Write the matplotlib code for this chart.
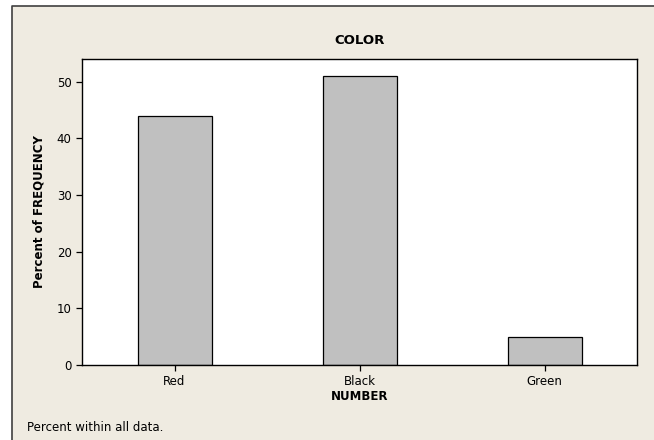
import matplotlib.pyplot as plt
from matplotlib.patches import Rectangle
from matplotlib.lines import Line2D

categories = ['Red', 'Black', 'Green']
percent = [44, 51, 5]
yticks = [0, 10, 20, 30, 40, 50]

W, H = 654, 440
fig = plt.figure(figsize=(W / 100, H / 100), dpi=100)
fig.patch.set_facecolor('white')

# beige panel, dark frame only on top and left
fig.patches.append(Rectangle((12 / W, 0), 1, (H - 6) / H,
                             transform=fig.transFigure, facecolor='#efebe1',
                             edgecolor='none', zorder=-2))
fig.lines.append(Line2D([12 / W, 12 / W, 1], [0, (H - 6) / H, (H - 6) / H],
                        transform=fig.transFigure, color='#404040', linewidth=1.2))

ax = fig.add_axes([82 / W, (H - 365) / H, (637 - 82) / W, (365 - 59) / H])
ax.set_facecolor('white')
ax.bar(range(len(categories)), percent, width=0.4, color='#c0c0c0',
       edgecolor='black', linewidth=0.9)
ax.set_xlim(-0.5, 2.5)
ax.set_ylim(0, 54)
ax.set_yticks(yticks)
ax.set_xticks(range(len(categories)))
ax.set_xticklabels(categories)
ax.tick_params(labelsize=8.5, length=4, width=0.9, direction='out')
for s in ax.spines.values():
    s.set_linewidth(1.0)

ax.set_title('COLOR', fontsize=9.5, fontweight='bold', pad=11)
ax.set_xlabel('NUMBER', fontsize=8.5, fontweight='bold', labelpad=1)
ax.set_ylabel('Percent of FREQUENCY', fontsize=8.5, fontweight='bold', labelpad=8)

fig.text(27 / W, (H - 427) / H, 'Percent within all data.', fontsize=8.5,
         va='center', ha='left')

plt.savefig('out.png', dpi=100)
